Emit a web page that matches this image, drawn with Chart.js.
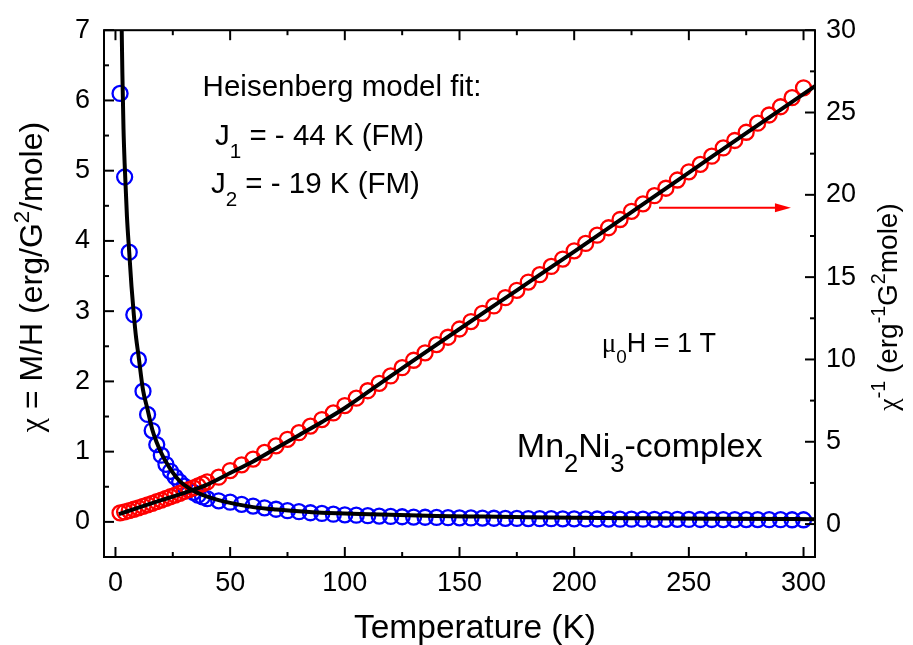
<!DOCTYPE html>
<html>
<head>
<meta charset="utf-8">
<script src="https://cdn.jsdelivr.net/npm/chart.js@4.4.1/dist/chart.umd.min.js"></script>
<style>
  html, body { margin: 0; padding: 0; background: #fff; }
  #wrap { width: 913px; height: 645px; }
</style>
</head>
<body>
<div id="wrap"><canvas id="c" width="913" height="645"></canvas></div>
<script>
// Measured temperatures (K)
const temps = [2,4,6,8,10,12,14,16,18,20,22,24,26,28,30,32,34,36,38,40,
  45,50,55,60,65,70,75,80,85,90,95,100,105,110,115,120,125,130,135,140,145,150,
  155,160,165,170,175,180,185,190,195,200,205,210,215,220,225,230,235,240,245,250,
  255,260,265,270,275,280,285,290,295,300];

// Susceptibility chi = M/H (erg/G^2/mole)
const chi = [6.10,4.91,3.84,2.95,2.31,1.86,1.53,1.30,1.10,0.95,0.82,0.72,0.64,0.57,0.51,0.46,0.42,0.38,0.355,0.33,
  0.30,0.28,0.25,0.225,0.20,0.18,0.16,0.145,0.13,0.12,0.11,0.10,0.095,0.088,0.082,0.077,0.073,0.069,0.066,0.063,0.060,0.058,
  0.056,0.054,0.052,0.050,0.049,0.047,0.046,0.045,0.044,0.043,0.042,0.041,0.040,0.039,0.038,0.038,0.037,0.036,0.036,0.035,
  0.034,0.034,0.033,0.033,0.032,0.032,0.031,0.031,0.030,0.030];

// Inverse susceptibility (erg^-1 G^2 mole)
const invChi = [0.68,0.74,0.82,0.90,0.99,1.08,1.17,1.26,1.36,1.46,1.56,1.66,1.76,1.87,1.98,2.09,2.20,2.32,2.44,2.56,
  2.85,3.25,3.60,3.95,4.35,4.75,5.15,5.55,5.95,6.35,6.75,7.20,7.65,8.10,8.55,9.00,9.50,9.95,10.40,10.90,11.35,11.85,
  12.30,12.80,13.25,13.75,14.20,14.70,15.15,15.65,16.10,16.60,17.05,17.55,18.00,18.50,19.00,19.45,19.95,20.40,20.90,21.40,
  21.85,22.35,22.85,23.30,23.80,24.35,24.85,25.35,25.90,26.50];

// Heisenberg-model fit curves
const chiFitT = [2.5,3,3.5,4,5,6,7,8,9,10,12,14,16,18,20,22,25,28,32,36,40,45,50,60,70,80,90,100,120,140,160,180,200,230,260,305];
const chiFit  = [7.5,6.4,5.6,5.1,4.35,3.84,3.35,2.95,2.62,2.38,1.88,1.60,1.32,1.13,0.98,0.855,0.70,0.58,0.48,0.41,0.36,0.31,0.27,0.21,0.175,0.15,0.13,0.12,0.10,0.085,0.075,0.065,0.058,0.051,0.045,0.038];
const invFitT = [1.5,10,20,30,40,50,60,70,80,90,100,115,130,150,175,200,225,250,275,305];
const invFit  = [0.6,1.0,1.45,1.9,2.4,3.1,3.8,4.6,5.4,6.2,7.05,8.5,9.95,11.85,14.2,16.55,18.95,21.35,23.75,26.6];

// Axis ticks
const xMajor = [0,50,100,150,200,250,300];
const xMinor = [25,75,125,175,225,275];
const yMajor = [0,1,2,3,4,5,6,7];
const yMinor = [0.5,1.5,2.5,3.5,4.5,5.5,6.5];
const y1Major = [0,5,10,15,20,25,30];
const y1Minor = [2.5,7.5,12.5,17.5,22.5,27.5];

const FONT = '"Liberation Sans", Arial, Helvetica, sans-serif';
const GREEK = '"Liberation Serif", "DejaVu Serif", serif';

const pts = (xs, ys) => xs.map((x, i) => ({ x: x, y: ys[i] }));

// draw a run of text pieces; s: 0 normal, -1 subscript, 1 superscript; g: Greek glyph
function drawRich(ctx, x, y, parts, size, align, subScale) {
  const small = size * (subScale || 0.7);
  const fontOf = p => (p.s ? small : size) + 'px ' + (p.g ? GREEK : FONT);
  let total = 0;
  parts.forEach(p => {
    ctx.font = fontOf(p);
    p.w = ctx.measureText(p.t).width;
    total += p.w;
  });
  let cx = align === 'center' ? x - total / 2 : x;
  ctx.textBaseline = 'alphabetic';
  ctx.textAlign = 'left';
  parts.forEach(p => {
    ctx.font = fontOf(p);
    let dy = 0;
    if (p.s === -1) dy = size * 0.42;
    if (p.s === 1) dy = -size * 0.42;
    ctx.fillText(p.t, cx, y + dy);
    cx += p.w;
  });
}

const decorPlugin = {
  id: 'decor',
  afterDraw(chart) {
    const ctx = chart.ctx;
    const a = chart.chartArea;
    const xs = chart.scales.x, ys = chart.scales.y, y1 = chart.scales.y1;
    ctx.save();
    ctx.strokeStyle = '#000';
    ctx.fillStyle = '#000';
    ctx.lineWidth = 2;
    ctx.lineCap = 'butt';

    // inward ticks
    const tick = (x0, y0, x1, y1p) => { ctx.beginPath(); ctx.moveTo(x0, y0); ctx.lineTo(x1, y1p); ctx.stroke(); };
    xMajor.forEach(v => { const p = xs.getPixelForValue(v); tick(p, a.bottom, p, a.bottom - 10); tick(p, a.top, p, a.top + 10); });
    xMinor.forEach(v => { const p = xs.getPixelForValue(v); tick(p, a.bottom, p, a.bottom - 5); tick(p, a.top, p, a.top + 5); });
    yMajor.forEach(v => { const p = ys.getPixelForValue(v); tick(a.left, p, a.left + 10, p); });
    yMinor.forEach(v => { const p = ys.getPixelForValue(v); tick(a.left, p, a.left + 5, p); });
    y1Major.forEach(v => { const p = y1.getPixelForValue(v); tick(a.right, p, a.right - 10, p); });
    y1Minor.forEach(v => { const p = y1.getPixelForValue(v); tick(a.right, p, a.right - 5, p); });

    // frame
    ctx.strokeRect(a.left, a.top, a.right - a.left, a.bottom - a.top);

    // annotations
    const X = v => xs.getPixelForValue(v);
    const Y = v => ys.getPixelForValue(v);
    drawRich(ctx, X(38), Y(6.06), [{ t: 'Heisenberg model fit:' }], 29.5, 'left');
    drawRich(ctx, X(43.4), Y(5.36), [{ t: 'J' }, { t: '1', s: -1 }, { t: ' = - 44 K (FM)' }], 29.5, 'left');
    drawRich(ctx, X(41.6), Y(4.68), [{ t: 'J' }, { t: '2', s: -1 }, { t: ' = - 19 K (FM)' }], 29.5, 'left');
    drawRich(ctx, X(212), Y(2.42), [{ t: 'μ', g: 1 }, { t: '0', s: -1 }, { t: 'H = 1 T' }], 27, 'left');
    drawRich(ctx, X(175), Y(0.92), [{ t: 'Mn' }, { t: '2', s: -1 }, { t: 'Ni' }, { t: '3', s: -1 }, { t: '-complex' }], 34, 'left', 0.75);

    // arrow toward the right-hand axis
    const ax0 = X(237), ax1 = X(294.5), ay = y1.getPixelForValue(19.22);
    ctx.strokeStyle = '#ff0000';
    ctx.fillStyle = '#ff0000';
    ctx.lineWidth = 2;
    tick(ax0, ay, ax1 - 12, ay);
    ctx.beginPath();
    ctx.moveTo(ax1, ay);
    ctx.lineTo(ax1 - 16, ay - 4.5);
    ctx.lineTo(ax1 - 16, ay + 4.5);
    ctx.closePath();
    ctx.fill();

    // axis titles
    ctx.fillStyle = '#000';
    drawRich(ctx, 475, 638, [{ t: 'Temperature (K)' }], 33.5, 'center');

    ctx.save();
    ctx.translate(42, 277);
    ctx.rotate(-Math.PI / 2);
    drawRich(ctx, 0, 0, [{ t: 'χ', g: 1 }, { t: ' = M/H (erg/G' }, { t: '2', s: 1 }, { t: '/mole)' }], 32, 'center');
    ctx.restore();

    ctx.save();
    ctx.translate(897, 307);
    ctx.rotate(-Math.PI / 2);
    drawRich(ctx, 0, 0, [{ t: 'χ', g: 1 }, { t: '-1', s: 1 }, { t: ' (erg' }, { t: '-1', s: 1 }, { t: 'G' }, { t: '2', s: 1 }, { t: 'mole)' }], 28, 'center');
    ctx.restore();

    ctx.restore();
  }
};

const tickFont = { family: FONT, size: 27 };
const setTicks = arr => scale => { scale.ticks = arr.map(v => ({ value: v })); };

new Chart(document.getElementById('c'), {
  type: 'scatter',
  data: {
    datasets: [
      { label: 'chi fit', data: pts(chiFitT, chiFit), yAxisID: 'y', showLine: true, pointRadius: 0,
        borderColor: '#000', borderWidth: 4, cubicInterpolationMode: 'monotone', order: 1, clip: 0 },
      { label: 'inverse fit', data: pts(invFitT, invFit), yAxisID: 'y1', showLine: true, pointRadius: 0,
        borderColor: '#000', borderWidth: 4, cubicInterpolationMode: 'monotone', order: 1, clip: 0 },
      { label: 'inverse chi', data: pts(temps, invChi), yAxisID: 'y1', showLine: false, pointRadius: 7.5,
        pointBorderWidth: 2.3, borderColor: '#ff0000', backgroundColor: 'rgba(0,0,0,0)', order: 2 },
      { label: 'chi', data: pts(temps, chi), yAxisID: 'y', showLine: false, pointRadius: 7.5,
        pointBorderWidth: 2.3, borderColor: '#0000ff', backgroundColor: 'rgba(0,0,0,0)', order: 3 }
    ]
  },
  options: {
    responsive: false,
    animation: false,
    events: [],
    layout: { padding: { top: 27, left: 0, right: 0, bottom: 0 } },
    plugins: { legend: { display: false }, tooltip: { enabled: false } },
    scales: {
      x: {
        type: 'linear', position: 'bottom', min: -5, max: 305,
        grid: { display: false, drawTicks: false }, border: { display: false },
        afterBuildTicks: setTicks(xMajor),
        afterFit: s => { s.height = 88; },
        ticks: { font: tickFont, color: '#000', padding: 10, maxRotation: 0, autoSkip: false }
      },
      y: {
        type: 'linear', position: 'left', min: -0.5, max: 7,
        grid: { display: false, drawTicks: false }, border: { display: false },
        afterBuildTicks: setTicks(yMajor),
        afterFit: s => { s.width = 104; },
        ticks: { font: tickFont, color: '#000', padding: 14, autoSkip: false }
      },
      y1: {
        type: 'linear', position: 'right', min: -2, max: 30,
        grid: { display: false, drawTicks: false }, border: { display: false },
        afterBuildTicks: setTicks(y1Major),
        afterFit: s => { s.width = 98; },
        ticks: { font: tickFont, color: '#000', padding: 11, autoSkip: false }
      }
    }
  },
  plugins: [decorPlugin]
});
</script>
</body>
</html>
